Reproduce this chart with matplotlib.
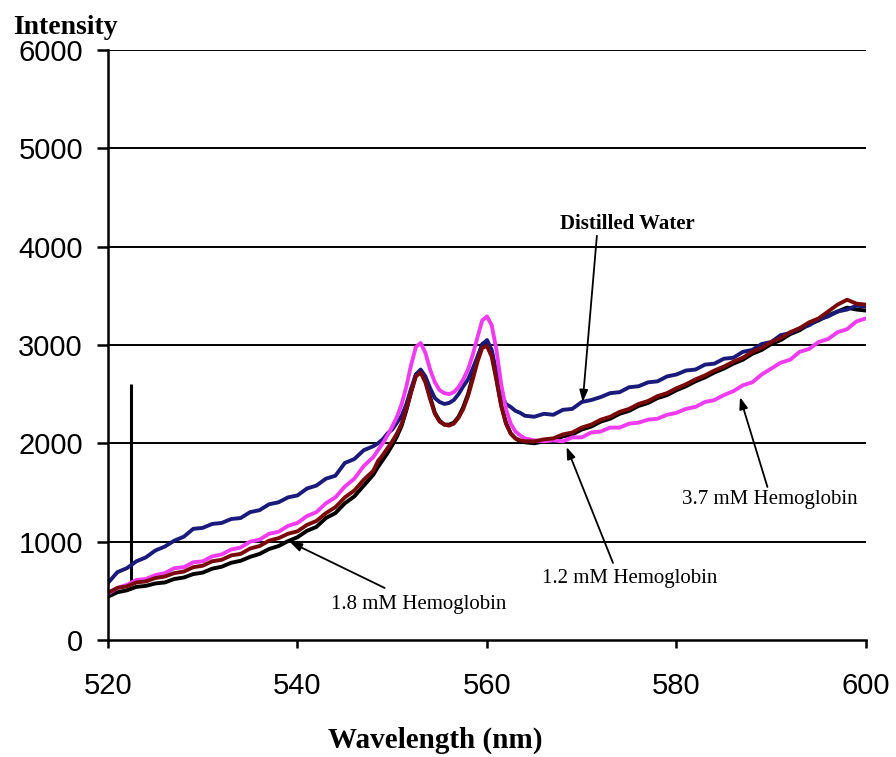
import numpy as np
import matplotlib
matplotlib.use("Agg")
from matplotlib import pyplot

# wavelength grid (nm): 1 nm steps, 0.5 nm steps around the two peaks
wavelength = np.concatenate([np.arange(520, 549), np.arange(548.5, 564.5, 0.5), np.arange(565, 601)])

water = [580, 690, 730, 800, 840, 910, 950, 1010, 1050, 1130, 1140, 1180, 1190, 1230, 1240,
         1300, 1320, 1380, 1400, 1450, 1470, 1540, 1570, 1640, 1670, 1800, 1840, 1930, 1970,
         2000, 2040, 2100, 2140, 2210, 2280, 2400, 2560, 2700, 2750, 2680, 2560, 2460, 2420,
         2400, 2410, 2440, 2500, 2580, 2650, 2760, 2880, 3000, 3050, 2950, 2720, 2500, 2400,
         2370, 2330, 2310, 2280,
         2270, 2300, 2290, 2340, 2350, 2420, 2440, 2470, 2510, 2520, 2570, 2580, 2620, 2630,
         2680, 2700, 2740, 2750, 2800, 2810, 2860, 2870, 2930, 2950, 3010, 3030, 3100, 3120,
         3170, 3200, 3260, 3290, 3340, 3360, 3400, 3390]

hb_37 = [470, 530, 560, 610, 620, 660, 680, 730, 740, 790, 800, 850, 870, 920, 940,
         1000, 1020, 1080, 1100, 1160, 1190, 1260, 1300, 1390, 1450, 1560, 1640, 1770, 1860,
         1930, 2000, 2080, 2170, 2270, 2400, 2580, 2800, 2980, 3020, 2920, 2750, 2620, 2540,
         2510, 2500, 2520, 2570, 2650, 2750, 2900, 3080, 3250, 3290, 3200, 2950, 2600, 2350,
         2200, 2120, 2080, 2050,
         2030, 2020, 2030, 2020, 2060, 2060, 2110, 2120, 2160, 2160, 2200, 2210, 2240, 2250,
         2290, 2310, 2350, 2370, 2420, 2440, 2490, 2530, 2590, 2620, 2700, 2760, 2820, 2850,
         2930, 2960, 3030, 3060, 3130, 3160, 3240, 3270]

hb_12 = [480, 530, 545, 585, 595, 630, 645, 680, 695, 740, 755, 800, 815, 860, 875,
         930, 955, 1010, 1035, 1080, 1105, 1170, 1210, 1290, 1350, 1450, 1520, 1630, 1720,
         1820, 1880, 1950, 2020, 2100, 2200, 2350, 2520, 2680, 2720, 2620, 2450, 2300, 2220,
         2190, 2180, 2200, 2260, 2350, 2480, 2650, 2830, 2970, 2990, 2880, 2640, 2380, 2200,
         2100, 2050, 2030, 2020,
         2020, 2040, 2050, 2090, 2110, 2160, 2190, 2240, 2270, 2320, 2350, 2400, 2430, 2480,
         2510, 2560, 2600, 2650, 2690, 2740, 2780, 2830, 2870, 2930, 2970, 3030, 3070, 3130,
         3170, 3230, 3270, 3340, 3410, 3460, 3420, 3410]

hb_18 = [440, 485, 505, 540, 550, 575, 585, 620, 635, 670, 685, 725, 745, 785, 805,
         845, 875, 925, 955, 1005, 1045, 1110, 1150, 1240, 1290, 1390, 1460, 1570, 1680,
         1760, 1830, 1900, 1980, 2070, 2180, 2340, 2530, 2700, 2740, 2640, 2470, 2310, 2230,
         2190, 2190, 2210, 2270, 2370, 2500, 2680, 2870, 3010, 3040, 2920, 2660, 2390, 2210,
         2100, 2050, 2020, 2010,
         2000, 2020, 2030, 2070, 2090, 2140, 2170, 2220, 2250, 2300, 2330, 2380, 2410, 2460,
         2490, 2540, 2580, 2630, 2670, 2720, 2760, 2810, 2850, 2910, 2950, 3010, 3050, 3110,
         3150, 3210, 3250, 3300, 3340, 3380, 3360, 3350]

# single spike seen in the 1.8 mM trace
spike_wl = 522.4
spike_range = (560, 2600)

y_ticks = [0, 1000, 2000, 3000, 4000, 5000, 6000]
x_ticks = [520, 540, 560, 580, 600]

# label text, text position, arrow tail, arrow tip
labels = [
    ("Distilled Water", (574.8, 4230), (571.6, 4110), (570.1, 2420), "bold"),
    ("3.7 mM Hemoglobin", (589.9, 1424), (589.6, 1556), (586.7, 2470), "normal"),
    ("1.2 mM Hemoglobin", (575.1, 630), (573.3, 783), (568.4, 1963), "normal"),
    ("1.8 mM Hemoglobin", (552.8, 356), (549.2, 529), (539.2, 997), "normal"),
]

serif = "Liberation Serif"
sans = "Liberation Sans"


def main() -> None:
    fig = pyplot.figure(figsize=(8.96, 7.57), dpi=100)
    ax = fig.add_axes([0.1205, 0.1546, 0.8460, 0.7794])

    ax.plot(wavelength, hb_18, color="black", lw=2.8)
    ax.vlines(spike_wl, *spike_range, color="black", lw=2.2)
    ax.plot(wavelength, water, color="#1a1a7a", lw=2.8)
    ax.plot(wavelength, hb_37, color="#f03cf0", lw=2.8)
    ax.plot(wavelength, hb_12, color="#7a0a0a", lw=2.8)

    ax.set_xlim(520, 600)
    ax.set_ylim(0, 6000)
    ax.set_xticks(x_ticks)
    ax.set_yticks(y_ticks)
    for v in y_ticks[1:]:
        ax.axhline(v, color="black", lw=1.4, zorder=0)

    for side in ("top", "right"):
        ax.spines[side].set_visible(False)
    for side in ("left", "bottom"):
        ax.spines[side].set_linewidth(1.8)
    ax.tick_params(axis="x", direction="out", length=6, width=1.8, pad=17)
    ax.tick_params(axis="y", direction="out", length=8, width=1.8, pad=10)
    for t in ax.get_xticklabels() + ax.get_yticklabels():
        t.set_fontfamily(sans)
        t.set_fontsize(21)

    for text, pos, tail, tip, weight in labels:
        ax.text(pos[0], pos[1], text, ha="center", va="center",
                fontfamily=serif, fontsize=15, fontweight=weight)
        ax.annotate("", xy=tip, xytext=tail,
                    arrowprops=dict(arrowstyle="-|>,head_length=0.7,head_width=0.25",
                                    color="black", lw=1.3, shrinkA=0, shrinkB=0))

    fig.text(13 / 896, 1 - 27 / 757, "Intensity", ha="left", va="center",
             fontfamily=serif, fontsize=20, fontweight="bold")
    fig.text(435 / 896, 1 - 740 / 757, "Wavelength (nm)", ha="center", va="center",
             fontfamily=serif, fontsize=21, fontweight="bold")

    fig.savefig("out.png", dpi=100)


if __name__ == "__main__":
    main()
